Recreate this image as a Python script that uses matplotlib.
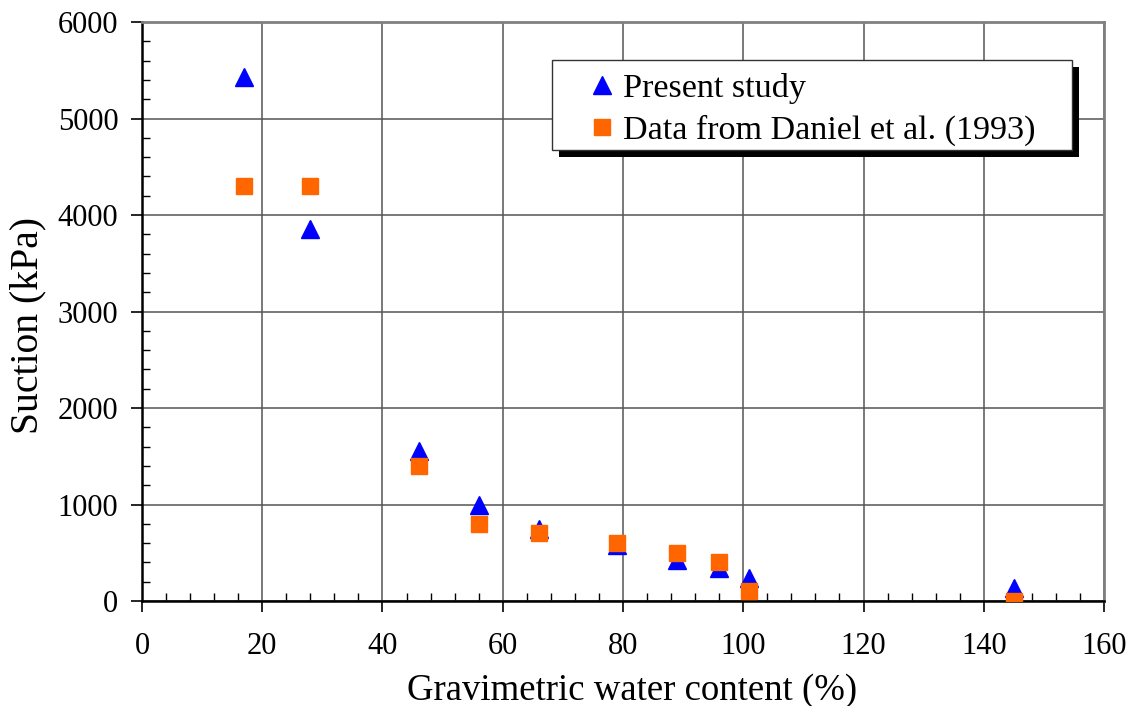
import matplotlib.pyplot as plt
from matplotlib.patches import Rectangle
from matplotlib.ticker import MultipleLocator

plt.rcParams['font.family'] = ['Liberation Serif', 'DejaVu Serif']

# --- data ---
x_present = [17, 28, 46, 56, 66, 79, 89, 96, 101, 145]
y_present = [5430, 3850, 1550, 1000, 750, 580, 430, 345, 240, 140]

x_daniel = [17, 28, 46, 56, 66, 79, 89, 96, 101, 145]
y_daniel = [4300, 4300, 1400, 800, 700, 600, 500, 400, 100, 0]

label_present = "Present study"
label_daniel = "Data from Daniel et al. (1993)"

fig = plt.figure(figsize=(11.32, 7.06), dpi=100)
ax = fig.add_axes([0.1254, 0.1487, 0.8499, 0.8201])

ax.plot(x_present, y_present, ls='none', marker='^', ms=13.5, color='#0000ff',
        label=label_present, zorder=3)
ax.plot(x_daniel, y_daniel, ls='none', marker='s', ms=11.5, color='#ff6600',
        mec='#ff6600', label=label_daniel, zorder=4)

ax.set_xlim(0, 160)
ax.set_ylim(0, 6000)
ax.xaxis.set_major_locator(MultipleLocator(20))
ax.xaxis.set_minor_locator(MultipleLocator(4))
ax.yaxis.set_major_locator(MultipleLocator(1000))
ax.yaxis.set_minor_locator(MultipleLocator(200))

ax.tick_params(which='major', direction='out', length=8, width=1.2,
               labelsize=22, color='black')
ax.tick_params(axis='x', which='major', pad=14)
ax.tick_params(axis='y', which='major', pad=9)
ax.tick_params(which='minor', direction='in', length=6, width=1, color='black')

ax.grid(True, which='major', color='#555555', lw=1.1)
ax.set_axisbelow(True)

for s in ['top', 'right']:
    ax.spines[s].set_color('#808080')
    ax.spines[s].set_linewidth(2)
for s in ['left', 'bottom']:
    ax.spines[s].set_color('black')
    ax.spines[s].set_linewidth(1.8)

ax.set_xlabel("Gravimetric water content (%)", fontsize=26.5)
ax.set_ylabel("Suction (kPa)", fontsize=28.5)
ax.xaxis.set_label_coords(0.5094, -0.1242)
ax.yaxis.set_label_coords(-0.0988, 0.4767)

leg = ax.legend(loc='upper left', bbox_to_anchor=(0.4678, 0.9116),
                borderaxespad=0, fontsize=24.6, frameon=False,
                handlelength=0.6, handletextpad=0.3,
                labelspacing=0.32, borderpad=0.0, numpoints=1)
leg.set_zorder(10)

# legend box drawn by hand: wide side padding plus a black drop shadow
fig.canvas.draw()
bb = leg.get_window_extent()
x0, x1 = bb.x0 - 40, bb.x1 + 37
y0, y1 = bb.y0 - 4, bb.y1 + 13
off = 7
shadow = Rectangle((x0 + off, y0 - off), x1 - x0, y1 - y0,
                   transform=None, facecolor='black', edgecolor='none',
                   zorder=8, clip_on=False)
frame = Rectangle((x0, y0), x1 - x0, y1 - y0, transform=None,
                  facecolor='white', edgecolor='#333333', lw=1,
                  zorder=9, clip_on=False)
ax.add_artist(shadow)
ax.add_artist(frame)

fig.savefig("out.png", dpi=100)
